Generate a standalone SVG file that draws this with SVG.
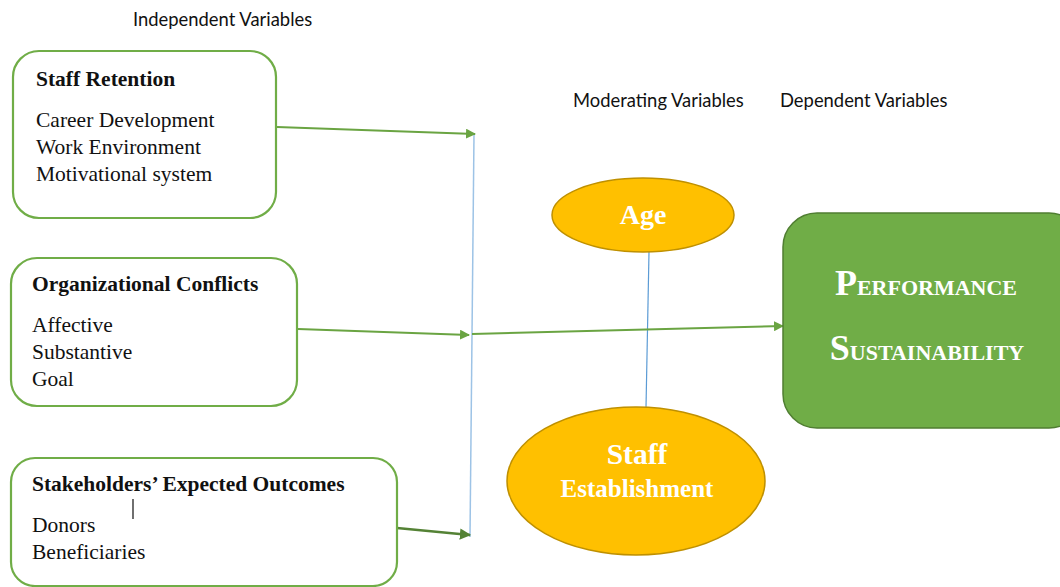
<svg xmlns="http://www.w3.org/2000/svg" width="1060" height="587" viewBox="0 0 1060 587">
  <defs>
    <marker id="arrowG" viewBox="0 0 10 10" refX="9" refY="5" markerWidth="5" markerHeight="5" markerUnits="strokeWidth" orient="auto">
      <path d="M0,0 L10,5 L0,10 Z" fill="#6aa442"/>
    </marker>
    <marker id="arrowD" viewBox="0 0 10 10" refX="9" refY="5" markerWidth="4.5" markerHeight="4.5" markerUnits="strokeWidth" orient="auto">
      <path d="M0,0 L10,5 L0,10 Z" fill="#548235"/>
    </marker>
    <style>
      .box { fill: #ffffff; stroke: #70ad47; stroke-width: 2.2; }
      .oval { fill: #ffc000; stroke: #bf9000; stroke-width: 1.5; }
      .dep { fill: #70ad47; stroke: #507e32; stroke-width: 1.5; }
      .hdr { font-family: Lato, "Liberation Sans", sans-serif; font-size: 18.4px; fill: #111111; }
      .ttl { font-family: "Liberation Serif", serif; font-size: 21.5px; font-weight: bold; fill: #111111; }
      .itm { font-family: "Liberation Serif", serif; font-size: 21.5px; fill: #111111; }
      .wht { font-family: "Liberation Serif", serif; font-weight: bold; fill: #ffffff; text-anchor: middle; }
      .link { fill: none; stroke: #6aa442; stroke-width: 2; }
      .blue { fill: none; stroke: #9dc3e6; stroke-width: 1.5; }
      .blue2 { fill: none; stroke: #5b9bd5; stroke-width: 1.2; }
    </style>
  </defs>

  <!-- section headings -->
  <text class="hdr" x="133" y="26">Independent Variables</text>
  <text class="hdr" x="573" y="107">Moderating Variables</text>
  <text class="hdr" x="780" y="107">Dependent Variables</text>

  <!-- connectors -->
  <g id="connectors">
    <line class="blue" x1="474" y1="134" x2="470" y2="537"/>
    <line class="blue2" x1="649" y1="252" x2="646" y2="408"/>
    <line class="link" x1="277" y1="127" x2="475" y2="134" marker-end="url(#arrowG)"/>
    <line class="link" x1="298" y1="329" x2="469" y2="335" marker-end="url(#arrowG)"/>
    <line class="link" x1="397" y1="528" x2="470" y2="535" style="stroke:#548235;stroke-width:2.5" marker-end="url(#arrowD)"/>
    <line class="link" x1="472" y1="334" x2="783" y2="326" marker-end="url(#arrowG)"/>
  </g>

  <!-- independent variables -->
  <g id="staff-retention">
    <rect class="box" x="13" y="51" width="263" height="167" rx="26"/>
    <text class="ttl" x="36" y="86">Staff Retention</text>
    <text class="itm" x="36" y="127">Career Development</text>
    <text class="itm" x="36" y="154">Work Environment</text>
    <text class="itm" x="36" y="181">Motivational system</text>
  </g>

  <g id="organizational-conflicts">
    <rect class="box" x="11" y="258" width="286" height="148" rx="26"/>
    <text class="ttl" x="32" y="291">Organizational Conflicts</text>
    <text class="itm" x="32" y="332">Affective</text>
    <text class="itm" x="32" y="359">Substantive</text>
    <text class="itm" x="32" y="386">Goal</text>
  </g>

  <g id="stakeholders">
    <rect class="box" x="11" y="458" width="386" height="128" rx="24"/>
    <text class="ttl" x="32" y="491">Stakeholders’ Expected Outcomes</text>
    <line x1="133" y1="499" x2="133" y2="519" stroke="#222222" stroke-width="1.3"/>
    <text class="itm" x="32" y="532">Donors</text>
    <text class="itm" x="32" y="559">Beneficiaries</text>
  </g>

  <!-- moderating variables -->
  <g id="age">
    <ellipse class="oval" cx="643" cy="215" rx="91" ry="37"/>
    <text class="wht" x="643" y="224" font-size="28">Age</text>
  </g>

  <g id="staff-establishment">
    <ellipse class="oval" cx="636" cy="481" rx="129" ry="74"/>
    <text class="wht" x="637" y="464" font-size="29.5">Staff</text>
    <text class="wht" x="637" y="497" font-size="25">Establishment</text>
  </g>

  <!-- dependent variable -->
  <g id="performance-sustainability">
    <rect class="dep" x="783" y="213" width="300" height="215" rx="34"/>
    <text class="wht" x="926" y="295" font-size="22"><tspan font-size="36">P</tspan>ERFORMANCE</text>
    <text class="wht" x="927" y="360" font-size="22"><tspan font-size="36">S</tspan>USTAINABILITY</text>
  </g>
</svg>
